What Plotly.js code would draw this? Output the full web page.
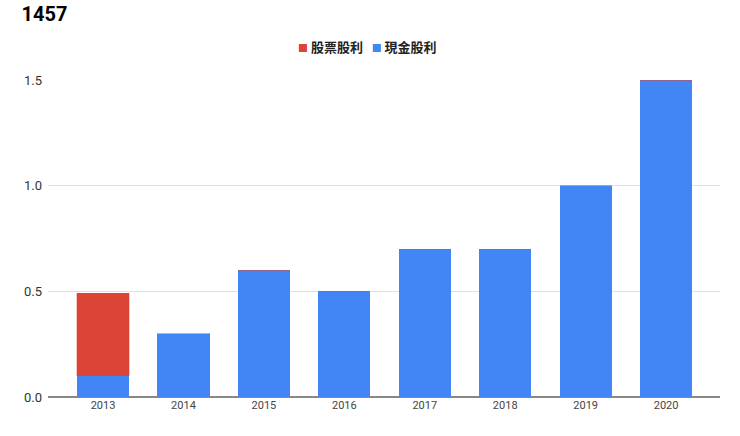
<!DOCTYPE html>
<html>
<head>
<meta charset="utf-8">
<script src="https://cdn.plot.ly/plotly-3.0.1.min.js"></script>
<style>html,body{margin:0;padding:0;background:#fff;}#chart{width:740px;height:436px;}</style>
</head>
<body>
<div id="chart"></div>
<script>
var years = ['2013','2014','2015','2016','2017','2018','2019','2020'];
var cashDividend = [0.1, 0.3, 0.6, 0.5, 0.7, 0.7, 1.0, 1.5];
var stockDividend = [0.39, 0, 0, 0, 0, 0, 0, 0];
var seriesNames = ['股票股利', '現金股利'];
var seriesColors = ['#db4437', '#4285f4'];
var yTicks = [0, 0.5, 1.0, 1.5];
var yTickLabels = ['0.0', '0.5', '1.0', '1.5'];

var font = 'Roboto, "Noto Sans CJK TC", Arial, sans-serif';

var traces = [
  {
    type: 'bar', name: seriesNames[1], x: years, y: cashDividend,
    marker: {color: seriesColors[1], line: {width: 0}},
    width: 0.65, hoverinfo: 'x+y'
  },
  {
    type: 'bar', name: seriesNames[0], x: years, y: stockDividend,
    marker: {color: seriesColors[0], line: {color: seriesColors[0], width: 0.3}},
    width: 0.65, hoverinfo: 'x+y'
  }
];

var legendText = seriesNames.map(function (n, i) {
  return '<span style="color:' + seriesColors[i] + ';font-size:10px">■</span> <b>' + n + '</b>';
}).join('   ');

var layout = {
  width: 740, height: 436,
  barmode: 'stack',
  paper_bgcolor: '#fff', plot_bgcolor: '#fff',
  margin: {l: 48, r: 20, t: 80, b: 39},
  title: {
    text: '<b>1457</b>', x: 0.029, xanchor: 'left', y: 0.968, yanchor: 'middle',
    font: {family: font, size: 20, color: '#000'}
  },
  showlegend: false,
  annotations: [{
    xref: 'paper', yref: 'paper', x: 0.476, y: 1.105, xanchor: 'center', yanchor: 'middle',
    showarrow: false, text: legendText,
    font: {family: '"Noto Sans CJK TC", Roboto, sans-serif', size: 13, color: '#222'}
  }],
  xaxis: {
    type: 'category', range: [-0.684, 7.67],
    tickfont: {family: font, size: 11, color: '#444'},
    showgrid: false, zeroline: false, showline: false, ticks: ''
  },
  yaxis: {
    range: [0, 1.5], tickvals: yTicks, ticktext: yTickLabels,
    tickfont: {family: font, size: 13, color: '#333'},
    showgrid: true, gridcolor: '#e0e0e0', gridwidth: 1,
    zeroline: true, zerolinecolor: '#888', zerolinewidth: 1.5,
    ticks: '', ticklabelstandoff: 5, automargin: false
  },
  bargap: 0
};

Plotly.newPlot('chart', traces, layout, {displayModeBar: false, staticPlot: true});
</script>
</body>
</html>
